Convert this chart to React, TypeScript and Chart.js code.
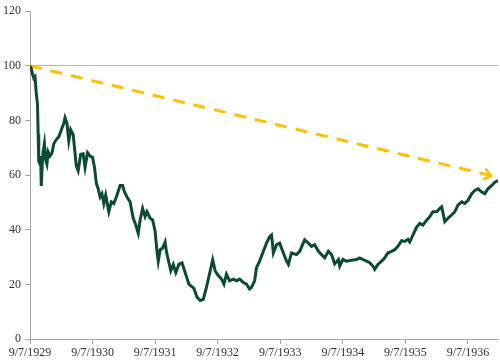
import React, { useEffect, useRef } from "react";
import { Chart, registerables } from "chart.js";

Chart.register(...registerables);

// Years elapsed since 9/7/1929
const years = [
  0.00, 0.02, 0.04, 0.06, 0.08, 0.10, 0.12, 0.13, 0.14, 0.16,
  0.17, 0.18, 0.20, 0.21, 0.23, 0.25, 0.27, 0.29, 0.32, 0.35,
  0.38, 0.42, 0.46, 0.50, 0.54, 0.56, 0.59, 0.62, 0.65, 0.69,
  0.74, 0.77, 0.81, 0.85, 0.88, 0.92, 0.96, 1.00, 1.03, 1.06,
  1.09, 1.12, 1.15, 1.18, 1.21, 1.26, 1.30, 1.34, 1.38, 1.44,
  1.48, 1.51, 1.55, 1.60, 1.65, 1.69, 1.73, 1.76, 1.80, 1.84,
  1.87, 1.92, 1.96, 2.00, 2.03, 2.05, 2.08, 2.12, 2.16, 2.18,
  2.22, 2.25, 2.29, 2.33, 2.38, 2.43, 2.48, 2.54, 2.62, 2.67,
  2.72, 2.77, 2.82, 2.88, 2.92, 2.96, 3.00, 3.06, 3.10, 3.14,
  3.19, 3.25, 3.30, 3.35, 3.41, 3.46, 3.51, 3.54, 3.59, 3.62,
  3.67, 3.73, 3.78, 3.83, 3.86, 3.89, 3.94, 3.99, 4.05, 4.10,
  4.13, 4.18, 4.26, 4.31, 4.39, 4.45, 4.50, 4.55, 4.61, 4.66,
  4.71, 4.77, 4.82, 4.87, 4.93, 4.95, 5.00, 5.06, 5.14, 5.22,
  5.27, 5.32, 5.38, 5.43, 5.48, 5.51, 5.56, 5.62, 5.67, 5.72,
  5.78, 5.83, 5.88, 5.94, 5.99, 6.04, 6.07, 6.12, 6.18, 6.23,
  6.28, 6.34, 6.39, 6.44, 6.50, 6.55, 6.58, 6.63, 6.68, 6.74,
  6.79, 6.84, 6.90, 6.95, 7.00, 7.06, 7.11, 7.16, 7.22, 7.27,
  7.32, 7.38, 7.43, 7.48,
];

const values = [
  100, 99, 97, 95.5, 96, 90, 86, 75, 65, 64,
  67, 56, 66, 68.5, 71.5, 65.5, 64, 68.5, 67, 68,
  71.5, 73, 74, 76.5, 79, 81, 79, 72.5, 76.6, 74.8,
  63.4, 61.6, 67.6, 67.8, 62.8, 68.2, 67, 66.5, 63, 57,
  55, 52, 53.2, 49.6, 52.7, 46.6, 50.2, 49.6, 52, 56.2,
  56.2, 53.8, 52, 50.2, 44.2, 41.8, 38.7, 43.6, 47.8, 44.8,
  46.6, 44.2, 43.6, 39.4, 32, 28.5, 32.7, 33.3, 35.5, 32,
  28, 25, 27.3, 24.3, 27.3, 27.9, 24.3, 20.1, 18.5, 15.3,
  14.1, 14.5, 18.9, 24.9, 29, 24.9, 23.5, 22, 20.1, 23.7,
  21.3, 21.9, 21.3, 21.9, 20.7, 20.1, 18.3, 18.9, 21.3, 26.1,
  28.5, 32.1, 35.1, 37.5, 38.1, 31.5, 34.5, 35.1, 31.5, 28.5,
  27.3, 31.5, 30.9, 32.1, 36.3, 35.1, 33.9, 34.5, 32.1, 30.9,
  29.7, 32.1, 30.9, 27.5, 29.1, 26.7, 29.1, 28.5, 28.8, 29.1,
  29.7, 29.1, 28.5, 27.9, 26.7, 25.5, 27.3, 28.5, 29.7, 31.5,
  32.1, 32.7, 33.9, 36, 35.7, 36.5, 35.5, 38, 41, 42.3,
  41.7, 43.5, 44.8, 46.6, 46.6, 47.8, 48.4, 43, 44.2, 45.4,
  46.6, 49, 50.2, 49.6, 50.8, 53.2, 54.4, 55, 53.8, 53.2,
  55, 56.2, 57.4, 58,
];

// Trend arrow (start and end)
const arrowYears = [0, 7.37];
const arrowValues = [100, 59.8];

const tickLabels = [
  "9/7/1929", "9/7/1930", "9/7/1931", "9/7/1932",
  "9/7/1933", "9/7/1934", "9/7/1935", "9/7/1936",
];

const FONT = '"Liberation Serif", "Times New Roman", serif';

const arrowHeadPlugin = {
  id: "arrowHead",
  afterDatasetsDraw(chart: any) {
    const meta = chart.getDatasetMeta(1);
    if (!meta || !meta.data || meta.data.length < 2) return;
    const p0 = meta.data[meta.data.length - 2];
    const p1 = meta.data[meta.data.length - 1];
    const ang = Math.atan2(p1.y - p0.y, p1.x - p0.x);
    const len = 9;
    const spread = (38 * Math.PI) / 180;
    const ctx = chart.ctx;
    ctx.save();
    ctx.strokeStyle = "#FFC000";
    ctx.lineWidth = 2.6;
    ctx.lineCap = "butt";
    ctx.lineJoin = "miter";
    ctx.beginPath();
    ctx.moveTo(p1.x - len * Math.cos(ang - spread), p1.y - len * Math.sin(ang - spread));
    ctx.lineTo(p1.x, p1.y);
    ctx.lineTo(p1.x - len * Math.cos(ang + spread), p1.y - len * Math.sin(ang + spread));
    ctx.stroke();
    ctx.restore();
  },
};

export default function App() {
  const canvasRef = useRef<HTMLCanvasElement | null>(null);

  useEffect(() => {
    document.body.style.margin = "0";
    const canvas = canvasRef.current;
    if (!canvas) return;
    const mainData = years.map((t, i) => ({ x: t, y: values[i] }));
    const arrowData = arrowYears.map((t, i) => ({ x: t, y: arrowValues[i] }));
    const chart = new Chart(canvas, {
      type: "line",
      data: {
        datasets: [
          {
            data: mainData,
            borderColor: "#0A4A37",
            borderWidth: 3,
            pointRadius: 0,
            tension: 0,
            fill: false,
          },
          {
            data: arrowData,
            borderColor: "#FFC000",
            borderWidth: 3,
            borderDash: [12, 9],
            pointRadius: 0,
            tension: 0,
            fill: false,
          },
        ],
      },
      options: {
        animation: false,
        responsive: false,
        maintainAspectRatio: false,
        layout: { padding: { top: 7, right: 2, left: 0, bottom: 0 } },
        plugins: {
          legend: { display: false },
          tooltip: { enabled: false },
        },
        scales: {
          x: {
            type: "linear",
            min: 0,
            max: years[years.length - 1],
            afterBuildTicks: (scale: any) => {
              scale.ticks = tickLabels.map((_, i) => ({ value: i }));
            },
            afterFit: (scale: any) => {
              scale.height = 23;
            },
            ticks: {
              autoSkip: false,
              maxRotation: 0,
              padding: 2,
              color: "#333",
              font: { family: FONT, size: 12 },
              callback: (v: any) => tickLabels[Math.round(Number(v))] ?? "",
            },
            grid: {
              drawOnChartArea: false,
              drawTicks: true,
              tickLength: 5,
              tickColor: "#A6A6A6",
            },
            border: { display: true, color: "#A6A6A6", width: 1 },
          },
          y: {
            min: 0,
            max: 120,
            afterFit: (scale: any) => {
              scale.width = 30;
            },
            ticks: {
              stepSize: 20,
              padding: 4,
              color: "#333",
              font: { family: FONT, size: 12 },
            },
            grid: {
              drawTicks: true,
              tickLength: 5,
              tickColor: "#A6A6A6",
              color: (c: any) => (c.tick && c.tick.value === 100 ? "#B5B5B5" : "rgba(0,0,0,0)"),
            },
            border: { display: true, color: "#A6A6A6", width: 1 },
          },
        },
      },
      plugins: [arrowHeadPlugin],
    });
    return () => chart.destroy();
  }, []);

  return (
    <div style={{ width: 500, height: 362 }}>
      <canvas ref={canvasRef} width={500} height={362} />
    </div>
  );
}
